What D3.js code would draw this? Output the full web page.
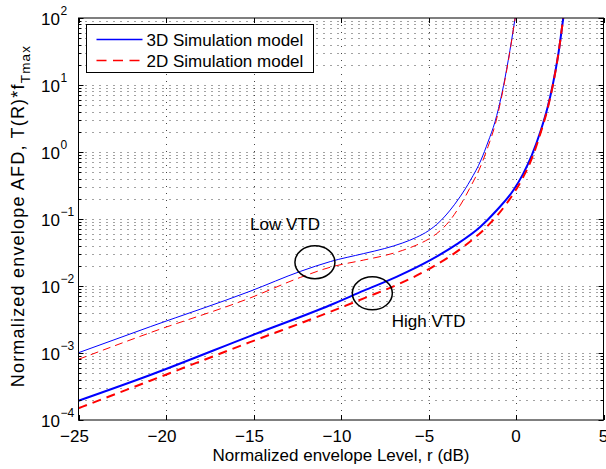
<!DOCTYPE html>
<html>
<head>
<meta charset="utf-8">
<script src="https://cdn.jsdelivr.net/npm/d3@7"></script>
<style>
body { margin: 0; background: #fff; }
text { font-family: "Liberation Sans", Arial, Helvetica, sans-serif; }
</style>
</head>
<body>
<div id="graphics"></div>
<script>
var width = 606, height = 469;

var xTicks = [-25, -20, -15, -10, -5, 0, 5];
var yTicks = [1e-4, 1e-3, 1e-2, 1e-1, 1e0, 1e1, 1e2];
var yExp = ['\u22124', '\u22123', '\u22122', '\u22121', '0', '1', '2'];

// low VTD, 3D model
var rLow3D = [-25, -20.9, -15.2, -12.3, -10.6, -8.7, -7.5, -6.5, -5.7, -5.0, -4.4, -3.8, -3.2, -2.6, -2.0, -1.6, -1.2, -0.8, -0.45, -0.05];
var afdLow3D = [1.01e-3, 2.47e-3, 8.34e-3, 0.0166, 0.0232, 0.0305, 0.0363, 0.0437, 0.0531, 0.0668, 0.0891, 0.132, 0.214, 0.380, 0.759, 1.41, 2.82, 7.59, 22.9, 100];
// low VTD, 2D model
var rLow2D = [-25, -20.9, -15.2, -12.3, -10.6, -8.7, -7.5, -6.5, -5.7, -5.0, -4.4, -3.8, -3.2, -2.6, -2.0, -1.6, -1.2, -0.8, -0.45, -0.05];
var afdLow2D = [8.05e-4, 2.01e-3, 6.62e-3, 0.0135, 0.0191, 0.0244, 0.0285, 0.0339, 0.0407, 0.0501, 0.0646, 0.0933, 0.158, 0.302, 0.631, 1.20, 2.51, 7.08, 21.9, 100];
// high VTD, 3D model
var rHigh3D = [-25, -20.9, -15.2, -10.6, -8.7, -6.8, -4.9, -3.4, -2.05, -1.1, -0.15, 0.4, 0.9, 1.4, 1.8, 2.1, 2.4, 2.7];
var afdHigh3D = [1.94e-4, 4.70e-4, 1.79e-3, 5.20e-3, 8.51e-3, 0.0138, 0.0243, 0.0417, 0.0759, 0.135, 0.269, 0.468, 0.891, 2.04, 4.57, 10, 26.9, 100];
// high VTD, 2D model
var rHigh2D = [-25, -20.9, -15.2, -10.6, -8.7, -6.8, -4.9, -3.0, -1.67, -0.53, 0.42, 0.9, 1.4, 1.8, 2.1, 2.4, 2.7];
var afdHigh2D = [1.50e-4, 3.86e-4, 1.45e-3, 4.13e-3, 6.55e-3, 0.0104, 0.0184, 0.0386, 0.0767, 0.171, 0.428, 0.794, 1.91, 4.37, 9.77, 26.9, 100];

var seriesNames = ['3D Simulation model', '2D Simulation model'];

var pLeft = 78.5, pRight = 603.5, pTop = 18, pBottom = 420;

var x = d3.scaleLinear().domain([-25, 5]).range([pLeft, pRight]);
var y = d3.scaleLog().domain([1e-4, 1e2]).range([pBottom, pTop]);

var svg = d3.select('#graphics')
    .append('svg')
    .attr('width', width)
    .attr('height', height);

svg.append('rect')
    .attr('width', width)
    .attr('height', height)
    .attr('fill', '#fff');

svg.append('clipPath').attr('id', 'plotclip')
    .append('rect')
    .attr('x', pLeft).attr('y', pTop)
    .attr('width', pRight - pLeft).attr('height', pBottom - pTop);

// grid
var minorY = [];
yTicks.forEach(function(t, i) {
  if (i < yTicks.length - 1) {
    for (var k = 2; k <= 9; k++) minorY.push(t * k);
  }
});
var gridY = yTicks.slice(1, -1).concat(minorY);

svg.append('g').selectAll('line')
    .data(gridY).enter().append('line')
    .attr('x1', pLeft).attr('x2', pRight)
    .attr('y1', d => Math.round(y(d)) + 0.5)
    .attr('y2', d => Math.round(y(d)) + 0.5)
    .attr('stroke', '#444')
    .attr('stroke-width', 1)
    .attr('stroke-dasharray', '1,6');

svg.append('g').selectAll('line')
    .data(xTicks.slice(1, -1)).enter().append('line')
    .attr('x1', d => Math.round(x(d)) + 0.5)
    .attr('x2', d => Math.round(x(d)) + 0.5)
    .attr('y1', pTop).attr('y2', pBottom)
    .attr('stroke', '#444')
    .attr('stroke-width', 1)
    .attr('stroke-dasharray', '1,6');

// curves
var line = d3.line()
    .x(d => x(d[0]))
    .y(d => y(d[1]))
    .curve(d3.curveMonotoneX);

function zip(a, b) { return a.map(function(v, i) { return [v, b[i]]; }); }

var curves = [
  {pts: zip(rLow3D, afdLow3D), color: 'blue', w: 1, dash: null},
  {pts: zip(rLow2D, afdLow2D), color: 'red', w: 1, dash: '8,5'},
  {pts: zip(rHigh3D, afdHigh3D), color: 'blue', w: 2, dash: null},
  {pts: zip(rHigh2D, afdHigh2D), color: 'red', w: 2, dash: '9,6'}
];

svg.append('g')
    .attr('clip-path', 'url(#plotclip)')
    .selectAll('path')
    .data(curves).enter().append('path')
    .attr('d', d => line(d.pts))
    .attr('fill', 'none')
    .attr('stroke', d => d.color)
    .attr('stroke-width', d => d.w)
    .attr('stroke-dasharray', d => d.dash);

// annotations
var ellipses = [[-11.49, 0.0226], [-8.21, 7.78e-3]];
svg.append('g').selectAll('ellipse')
    .data(ellipses).enter().append('ellipse')
    .attr('cx', d => x(d[0]))
    .attr('cy', d => y(d[1]))
    .attr('rx', 20)
    .attr('ry', 16.5)
    .attr('fill', 'none')
    .attr('stroke', 'black')
    .attr('stroke-width', 1.5);

var notes = [['Low VTD', -15.2, 0.0685], ['High VTD', -7.1, 2.47e-3]];
svg.append('g').selectAll('text')
    .data(notes).enter().append('text')
    .attr('x', d => x(d[1]))
    .attr('y', d => y(d[2]))
    .style('font-size', '17px')
    .text(d => d[0]);

// axes box and ticks
svg.append('rect')
    .attr('x', pLeft).attr('y', pTop)
    .attr('width', pRight - pLeft).attr('height', pBottom - pTop)
    .attr('fill', 'none')
    .attr('stroke', 'black')
    .attr('stroke-width', 1);

var tickG = svg.append('g').attr('stroke', 'black').attr('stroke-width', 1);
xTicks.forEach(function(t) {
  var px = Math.round(x(t)) + 0.5;
  tickG.append('line').attr('x1', px).attr('x2', px).attr('y1', pBottom).attr('y2', pBottom - 5);
  tickG.append('line').attr('x1', px).attr('x2', px).attr('y1', pTop).attr('y2', pTop + 5);
});
yTicks.forEach(function(t) {
  var py = Math.round(y(t)) + 0.5;
  tickG.append('line').attr('x1', pLeft).attr('x2', pLeft + 5).attr('y1', py).attr('y2', py);
  tickG.append('line').attr('x1', pRight).attr('x2', pRight - 5).attr('y1', py).attr('y2', py);
});
minorY.forEach(function(t) {
  var py = Math.round(y(t)) + 0.5;
  tickG.append('line').attr('x1', pLeft).attr('x2', pLeft + 3).attr('y1', py).attr('y2', py);
  tickG.append('line').attr('x1', pRight).attr('x2', pRight - 3).attr('y1', py).attr('y2', py);
});

svg.append('g').selectAll('text')
    .data(xTicks).enter().append('text')
    .attr('x', d => x(d) + (d < 0 ? -4 : 0))
    .attr('y', 442)
    .attr('text-anchor', 'middle')
    .style('font-size', '17px')
    .text(d => d < 0 ? '\u2212' + Math.abs(d) : d);

var yLab = svg.append('g').selectAll('g')
    .data(yTicks).enter().append('g');
yLab.append('text')
    .attr('x', 60)
    .attr('y', d => y(d) + 6.5)
    .attr('text-anchor', 'end')
    .style('font-size', '17px')
    .text('10');
yLab.append('text')
    .attr('x', 60.5)
    .attr('y', d => y(d) - 3.5)
    .style('font-size', '12px')
    .text((d, i) => yExp[i]);

svg.append('text')
    .attr('x', (pLeft + pRight) / 2)
    .attr('y', 461)
    .attr('text-anchor', 'middle')
    .style('font-size', '17px')
    .text('Normalized envelope Level, r (dB)');

var yTitle = svg.append('text')
    .attr('transform', 'translate(24,' + ((pTop + pBottom) / 2 - 3) + ') rotate(-90)')
    .attr('text-anchor', 'middle')
    .style('font-size', '18px')
    .style('letter-spacing', '1.2px');
yTitle.append('tspan').text('Normalized envelope AFD, T(R)*f');
yTitle.append('tspan').attr('dy', 6).style('font-size', '13.5px').text('Tmax');

// legend
var legend = svg.append('g');
legend.append('rect')
    .attr('x', 86.5).attr('y', 24.5)
    .attr('width', 227).attr('height', 48)
    .attr('fill', '#fff')
    .attr('stroke', 'black')
    .attr('stroke-width', 1);
var legItem = legend.selectAll('g')
    .data(seriesNames).enter().append('g')
    .attr('transform', function(d, i) {
      return 'translate(' + [96.5, 39.5 + i * 21] + ')';
    });
legItem.append('line')
    .attr('x1', 0).attr('x2', 46)
    .attr('stroke', (d, i) => i == 0 ? 'blue' : 'red')
    .attr('stroke-width', 1.5)
    .attr('stroke-dasharray', (d, i) => i == 0 ? null : '10,6.5');
legItem.append('text')
    .attr('x', 50)
    .attr('y', 6)
    .style('font-size', '17px')
    .text(d => d);
</script>
</body>
</html>
